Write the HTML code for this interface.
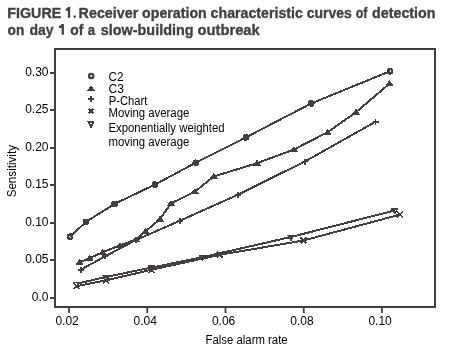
<!DOCTYPE html>
<html><head><meta charset="utf-8"><style>
html,body{margin:0;padding:0;background:#fff;}
svg{display:block;will-change:transform;}
text{font-family:"Liberation Sans",sans-serif;}
.t{font-size:12px;fill:#000;}
.ti{font-size:15.5px;font-weight:bold;fill:#433f40;stroke:#433f40;stroke-width:0.35px;}
</style></head><body>
<svg shape-rendering="crispEdges" width="455" height="354" viewBox="0 0 455 354">
<text x="7.22" y="17.90" class="ti" textLength="54.07" lengthAdjust="spacingAndGlyphs">FIGURE</text>
<text x="78.62" y="17.90" class="ti" textLength="59.66" lengthAdjust="spacingAndGlyphs">Receiver</text>
<text x="142.11" y="17.90" class="ti" textLength="64.65" lengthAdjust="spacingAndGlyphs">operation</text>
<text x="210.60" y="17.90" class="ti" textLength="92.24" lengthAdjust="spacingAndGlyphs">characteristic</text>
<text x="306.75" y="17.90" class="ti" textLength="45.09" lengthAdjust="spacingAndGlyphs">curves</text>
<text x="355.76" y="17.90" class="ti" textLength="11.76" lengthAdjust="spacingAndGlyphs">of</text>
<text x="372.04" y="17.90" class="ti" textLength="63.50" lengthAdjust="spacingAndGlyphs">detection</text>
<text x="7.55" y="34.80" class="ti" textLength="16.77" lengthAdjust="spacingAndGlyphs">on</text>
<text x="29.43" y="34.80" class="ti" textLength="24.09" lengthAdjust="spacingAndGlyphs">day</text>
<text x="70.33" y="34.80" class="ti" textLength="13.11" lengthAdjust="spacingAndGlyphs">of</text>
<text x="87.67" y="34.80" class="ti" textLength="7.38" lengthAdjust="spacingAndGlyphs">a</text>
<text x="100.70" y="34.80" class="ti" textLength="92.89" lengthAdjust="spacingAndGlyphs">slow-building</text>
<text x="197.60" y="34.80" class="ti" textLength="62.15" lengthAdjust="spacingAndGlyphs">outbreak</text>
<path shape-rendering="geometricPrecision" fill="#433f40" d="M65.7 8.8Q67.2 8.6 67.9 6.9L70.2 6.9L70.2 17.8L67.9 17.8L67.9 10.8L65.7 10.8Z M73.6 15.5H75.8V17.8H73.6Z M59.0 25.9Q60.9 25.7 61.7 24.0L63.9 24.0L63.9 34.8L61.7 34.8L61.7 27.9L59.0 27.9Z"/>
<text x="205.56" y="343.70" class="t" textLength="82.10" lengthAdjust="spacingAndGlyphs">False alarm rate</text>
<text transform="translate(16,197.36) rotate(-90)" x="0" y="0" class="t" textLength="52.34" lengthAdjust="spacingAndGlyphs">Sensitivity</text>
<rect x="55" y="49" width="380" height="258" fill="none" stroke="#433f40" stroke-width="2"/>
<path d="M50 72.8H55" stroke="#433f40" stroke-width="2"/>
<text x="48.5" y="75.8" class="t" text-anchor="end">0.30</text>
<path d="M50 110.3H55" stroke="#433f40" stroke-width="2"/>
<text x="48.5" y="113.3" class="t" text-anchor="end">0.25</text>
<path d="M50 147.8H55" stroke="#433f40" stroke-width="2"/>
<text x="48.5" y="150.8" class="t" text-anchor="end">0.20</text>
<path d="M50 185.2H55" stroke="#433f40" stroke-width="2"/>
<text x="48.5" y="188.2" class="t" text-anchor="end">0.15</text>
<path d="M50 222.7H55" stroke="#433f40" stroke-width="2"/>
<text x="48.5" y="225.7" class="t" text-anchor="end">0.10</text>
<path d="M50 260.2H55" stroke="#433f40" stroke-width="2"/>
<text x="48.5" y="263.2" class="t" text-anchor="end">0.05</text>
<path d="M50 297.7H55" stroke="#433f40" stroke-width="2"/>
<text x="48.5" y="300.7" class="t" text-anchor="end">0.0</text>
<path shape-rendering="geometricPrecision" d="M69.00 307V313" stroke="#433f40" stroke-width="1.8"/>
<text x="67.1" y="324.6" class="t" text-anchor="middle">0.02</text>
<path shape-rendering="geometricPrecision" d="M147.25 307V313" stroke="#433f40" stroke-width="1.8"/>
<text x="145.3" y="324.6" class="t" text-anchor="middle">0.04</text>
<path shape-rendering="geometricPrecision" d="M225.50 307V313" stroke="#433f40" stroke-width="1.8"/>
<text x="223.6" y="324.6" class="t" text-anchor="middle">0.06</text>
<path shape-rendering="geometricPrecision" d="M303.75 307V313" stroke="#433f40" stroke-width="1.8"/>
<text x="301.9" y="324.6" class="t" text-anchor="middle">0.08</text>
<path shape-rendering="geometricPrecision" d="M382.00 307V313" stroke="#433f40" stroke-width="1.8"/>
<text x="380.1" y="324.6" class="t" text-anchor="middle">0.10</text>
<polyline points="70.1,236.6 86.0,221.9 114.6,203.9 154.9,184.6 195.7,162.8 245.9,137.4 311.3,103.4 389.9,71.3" fill="none" stroke="#433f40" stroke-width="2" stroke-linejoin="round"/>
<polyline points="79.7,262.2 89.8,258.0 102.7,252.2 120.0,245.4 136.0,239.5 145.5,231.4 160.0,219.2 171.0,203.3 194.8,191.8 213.8,176.5 257.0,163.2 294.0,149.5 327.6,132.2 356.0,112.2 389.5,83.6" fill="none" stroke="#433f40" stroke-width="2" stroke-linejoin="round"/>
<polyline points="80.8,269.7 105.1,256.3 136.0,240.0 180.2,220.6 238.0,194.7 304.9,161.5 375.5,121.8" fill="none" stroke="#433f40" stroke-width="2" stroke-linejoin="round"/>
<polyline points="76.4,286.3 105.7,280.4 151.4,269.8 219.8,254.8 303.5,240.5 400.3,214.5" fill="none" stroke="#433f40" stroke-width="2" stroke-linejoin="round"/>
<polyline points="76.8,283.8 105.7,277.0 151.4,267.6 202.6,257.2 290.9,237.0 394.6,210.5" fill="none" stroke="#433f40" stroke-width="2" stroke-linejoin="round"/>
<circle cx="70.1" cy="236.6" r="2.2" fill="none" stroke="#433f40" stroke-width="2.3"/>
<circle cx="86.0" cy="221.9" r="2.2" fill="#433f40" stroke="#433f40" stroke-width="2.3"/>
<circle cx="114.6" cy="203.9" r="2.2" fill="#433f40" stroke="#433f40" stroke-width="2.3"/>
<circle cx="154.9" cy="184.6" r="2.2" fill="#433f40" stroke="#433f40" stroke-width="2.3"/>
<circle cx="195.7" cy="162.8" r="2.2" fill="#433f40" stroke="#433f40" stroke-width="2.3"/>
<circle cx="245.9" cy="137.4" r="2.2" fill="#433f40" stroke="#433f40" stroke-width="2.3"/>
<circle cx="311.3" cy="103.4" r="2.2" fill="#433f40" stroke="#433f40" stroke-width="2.3"/>
<circle cx="389.9" cy="71.3" r="2.2" fill="none" stroke="#433f40" stroke-width="2.3"/>
<path d="M79.7 259.6L83.1 264.2L76.3 264.2Z" fill="#433f40" stroke="#433f40" stroke-width="1" stroke-linejoin="round"/>
<path d="M89.8 255.4L93.2 260.0L86.4 260.0Z" fill="#433f40" stroke="#433f40" stroke-width="1" stroke-linejoin="round"/>
<path d="M102.7 249.6L106.1 254.2L99.3 254.2Z" fill="#433f40" stroke="#433f40" stroke-width="1" stroke-linejoin="round"/>
<path d="M120.0 242.8L123.4 247.4L116.6 247.4Z" fill="#433f40" stroke="#433f40" stroke-width="1" stroke-linejoin="round"/>
<path d="M136.0 236.9L139.4 241.5L132.6 241.5Z" fill="#433f40" stroke="#433f40" stroke-width="1" stroke-linejoin="round"/>
<path d="M145.5 228.8L148.9 233.4L142.1 233.4Z" fill="#433f40" stroke="#433f40" stroke-width="1" stroke-linejoin="round"/>
<path d="M160.0 216.6L163.4 221.2L156.6 221.2Z" fill="#433f40" stroke="#433f40" stroke-width="1" stroke-linejoin="round"/>
<path d="M171.0 200.7L174.4 205.3L167.6 205.3Z" fill="#433f40" stroke="#433f40" stroke-width="1" stroke-linejoin="round"/>
<path d="M194.8 189.2L198.2 193.8L191.4 193.8Z" fill="#433f40" stroke="#433f40" stroke-width="1" stroke-linejoin="round"/>
<path d="M213.8 173.9L217.2 178.5L210.4 178.5Z" fill="#433f40" stroke="#433f40" stroke-width="1" stroke-linejoin="round"/>
<path d="M257.0 160.6L260.4 165.2L253.6 165.2Z" fill="#433f40" stroke="#433f40" stroke-width="1" stroke-linejoin="round"/>
<path d="M294.0 146.9L297.4 151.5L290.6 151.5Z" fill="#433f40" stroke="#433f40" stroke-width="1" stroke-linejoin="round"/>
<path d="M327.6 129.6L331.0 134.2L324.2 134.2Z" fill="#433f40" stroke="#433f40" stroke-width="1" stroke-linejoin="round"/>
<path d="M356.0 109.6L359.4 114.2L352.6 114.2Z" fill="#433f40" stroke="#433f40" stroke-width="1" stroke-linejoin="round"/>
<path d="M389.5 81.0L392.9 85.6L386.1 85.6Z" fill="#433f40" stroke="#433f40" stroke-width="1" stroke-linejoin="round"/>
<path d="M77.8 269.7H83.8M80.8 266.7V272.7" stroke="#433f40" stroke-width="1.8"/>
<path d="M102.1 256.3H108.1M105.1 253.3V259.3" stroke="#433f40" stroke-width="1.8"/>
<path d="M133.0 240.0H139.0M136.0 237.0V243.0" stroke="#433f40" stroke-width="1.8"/>
<path d="M177.2 220.6H183.2M180.2 217.6V223.6" stroke="#433f40" stroke-width="1.8"/>
<path d="M235.0 194.7H241.0M238.0 191.7V197.7" stroke="#433f40" stroke-width="1.8"/>
<path d="M301.9 161.5H307.9M304.9 158.5V164.5" stroke="#433f40" stroke-width="1.8"/>
<path d="M372.5 121.8H378.5M375.5 118.8V124.8" stroke="#433f40" stroke-width="1.8"/>
<path d="M73.4 283.3L79.4 289.3M79.4 283.3L73.4 289.3" stroke="#433f40" stroke-width="1.5"/>
<path d="M102.7 277.4L108.7 283.4M108.7 277.4L102.7 283.4" stroke="#433f40" stroke-width="1.5"/>
<path d="M148.4 266.8L154.4 272.8M154.4 266.8L148.4 272.8" stroke="#433f40" stroke-width="1.5"/>
<path d="M216.8 251.8L222.8 257.8M222.8 251.8L216.8 257.8" stroke="#433f40" stroke-width="1.5"/>
<path d="M300.5 237.5L306.5 243.5M306.5 237.5L300.5 243.5" stroke="#433f40" stroke-width="1.5"/>
<path d="M397.3 211.5L403.3 217.5M403.3 211.5L397.3 217.5" stroke="#433f40" stroke-width="1.5"/>
<path d="M73.8 282.2L79.8 282.2L76.8 287.0Z" fill="none" stroke="#433f40" stroke-width="1.4" stroke-linejoin="round"/>
<path d="M102.7 275.4L108.7 275.4L105.7 280.2Z" fill="none" stroke="#433f40" stroke-width="1.4" stroke-linejoin="round"/>
<path d="M148.4 266.0L154.4 266.0L151.4 270.8Z" fill="none" stroke="#433f40" stroke-width="1.4" stroke-linejoin="round"/>
<path d="M199.6 255.6L205.6 255.6L202.6 260.4Z" fill="none" stroke="#433f40" stroke-width="1.4" stroke-linejoin="round"/>
<path d="M287.9 235.4L293.9 235.4L290.9 240.2Z" fill="none" stroke="#433f40" stroke-width="1.4" stroke-linejoin="round"/>
<path d="M391.6 208.9L397.6 208.9L394.6 213.7Z" fill="none" stroke="#433f40" stroke-width="1.4" stroke-linejoin="round"/>
<circle shape-rendering="geometricPrecision" cx="91.2" cy="76.0" r="2.2" fill="none" stroke="#433f40" stroke-width="2.3"/>
<path d="M91.0 86.0L94.4 90.6L87.6 90.6Z" fill="#433f40" stroke="#433f40" stroke-width="1" stroke-linejoin="round"/>
<path d="M88.0 98.9H94.0M91.0 95.9V101.9" stroke="#433f40" stroke-width="1.8"/>
<path d="M88.6 108.5L93.4 113.3M93.4 108.5L88.6 113.3" stroke="#433f40" stroke-width="2.1"/>
<path d="M88.4 121.8L93.6 121.8L91.0 127.0Z" fill="none" stroke="#433f40" stroke-width="2" stroke-linejoin="round"/>
<text x="108.47" y="80.60" class="t" textLength="14.97" lengthAdjust="spacingAndGlyphs">C2</text>
<text x="108.42" y="92.70" class="t" textLength="15.49" lengthAdjust="spacingAndGlyphs">C3</text>
<text x="108.74" y="104.50" class="t" textLength="38.62" lengthAdjust="spacingAndGlyphs">P-Chart</text>
<text x="108.41" y="116.80" class="t" textLength="80.91" lengthAdjust="spacingAndGlyphs">Moving average</text>
<text x="108.41" y="131.70" class="t" textLength="116.27" lengthAdjust="spacingAndGlyphs">Exponentially weighted</text>
<text x="108.41" y="145.80" class="t" textLength="80.93" lengthAdjust="spacingAndGlyphs">moving average</text>
</svg>
</body></html>
